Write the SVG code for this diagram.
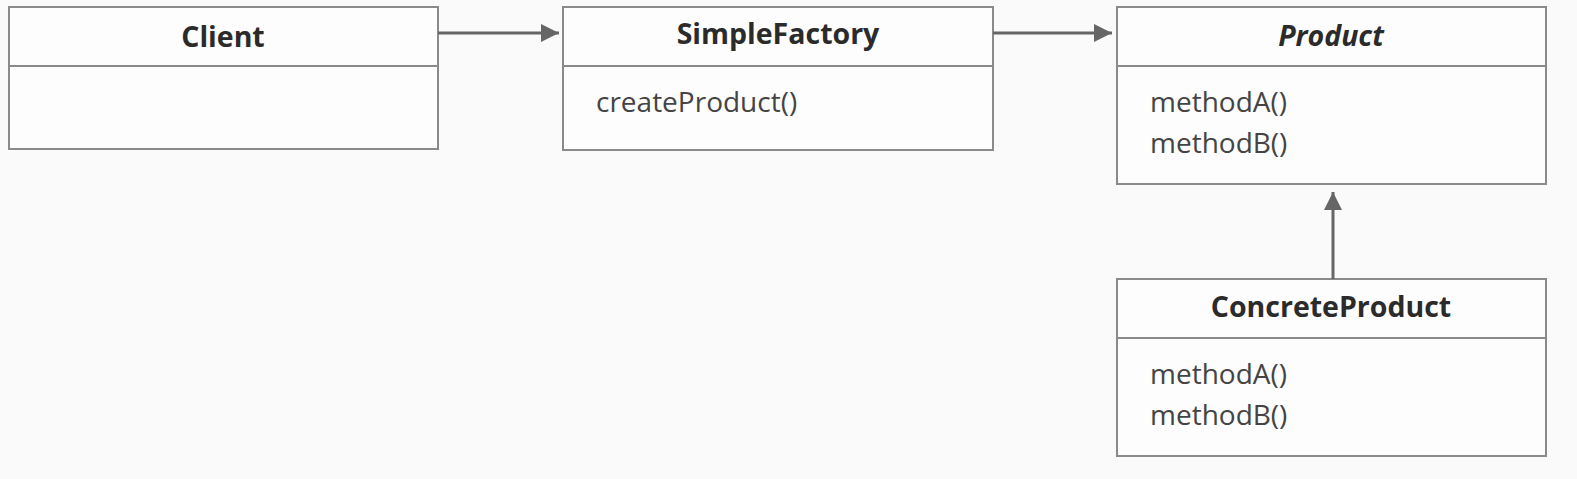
<svg xmlns="http://www.w3.org/2000/svg" width="1577" height="479" viewBox="0 0 1577 479">
<style>
.box{fill:#fdfdfd;stroke:#8a8a8a;stroke-width:2}
.div{stroke:#8a8a8a;stroke-width:2}
.title{font-family:"Open Sans","Liberation Sans",sans-serif;font-weight:bold;font-size:28.5px;fill:#2b2b2b;text-anchor:middle}
.it{font-style:italic}
.m{font-family:"Open Sans","Liberation Sans",sans-serif;font-size:28px;fill:#444}
.con{stroke:#666;stroke-width:3;fill:none}
</style>
<defs>
<marker id="ah" markerWidth="18" markerHeight="18" refX="18" refY="9" orient="auto" markerUnits="userSpaceOnUse" viewBox="0 0 18 18">
<path d="M0,0 L18,9 L0,18 z" fill="#666"/>
</marker>
</defs>
<rect width="1577" height="479" fill="#fafafa"/>
<g id="client">
<rect class="box" x="9" y="7" width="429" height="142"/>
<line class="div" x1="9" y1="66" x2="438" y2="66"/>
<text class="title" x="223" y="47">Client</text>
</g>
<g id="simplefactory">
<rect class="box" x="563" y="7" width="430" height="143"/>
<line class="div" x1="563" y1="66" x2="993" y2="66"/>
<text class="title" x="778" y="44">SimpleFactory</text>
<text class="m" x="596" y="112">createProduct()</text>
</g>
<g id="product">
<rect class="box" x="1117" y="7" width="429" height="177"/>
<line class="div" x1="1117" y1="66" x2="1546" y2="66"/>
<text class="title it" x="1331" y="46">Product</text>
<text class="m" x="1150" y="112">methodA()</text>
<text class="m" x="1150" y="153">methodB()</text>
</g>
<g id="concreteproduct">
<rect class="box" x="1117" y="279" width="429" height="177"/>
<line class="div" x1="1117" y1="338" x2="1546" y2="338"/>
<text class="title" x="1331" y="317">ConcreteProduct</text>
<text class="m" x="1150" y="384">methodA()</text>
<text class="m" x="1150" y="425">methodB()</text>
</g>
<g id="connectors">
<line class="con" x1="438" y1="33" x2="559" y2="33" marker-end="url(#ah)"/>
<line class="con" x1="993" y1="33" x2="1112" y2="33" marker-end="url(#ah)"/>
<line class="con" x1="1333" y1="279" x2="1333" y2="192" marker-end="url(#ah)"/>
</g>
</svg>
